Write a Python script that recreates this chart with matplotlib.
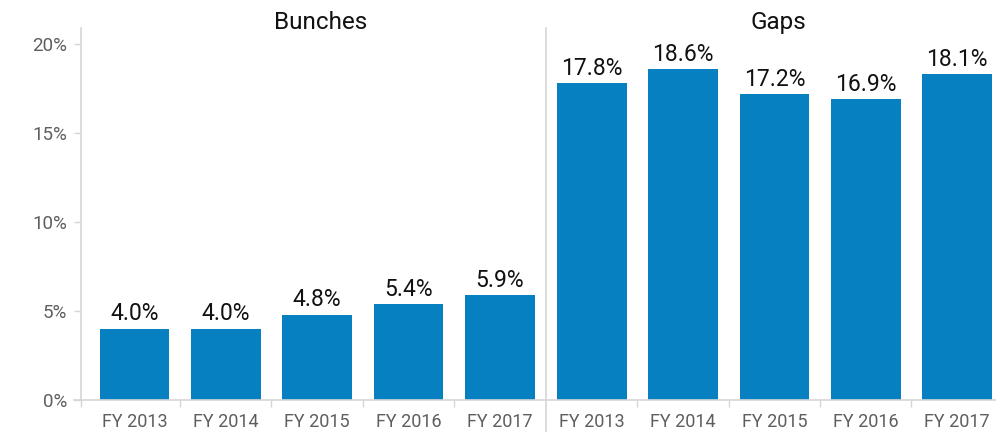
import numpy as np
import matplotlib
matplotlib.use('Agg')
import matplotlib.pyplot as plt
from matplotlib.lines import Line2D

plt.rcParams['font.family'] = ['Roboto', 'DejaVu Sans']

# data
years = ['FY 2013', 'FY 2014', 'FY 2015', 'FY 2016', 'FY 2017']
bunches = [4.0, 4.0, 4.8, 5.4, 5.9]
gaps = [17.8, 18.6, 17.2, 16.9, 18.3]
bunches_labels = ['4.0%', '4.0%', '4.8%', '5.4%', '5.9%']
gaps_labels = ['17.8%', '18.6%', '17.2%', '16.9%', '18.1%']
panel_titles = ['Bunches', 'Gaps']
yticks = [0, 5, 10, 15, 20]

bar_color = '#0780C2'
axis_color = '#d6d6d6'
tick_text = '#5e5e5e'

W, H = 996, 432
fig = plt.figure(figsize=(W / 100, H / 100), dpi=100)

# panel geometry in pixels
y0, y1 = 400, 28
ax1 = fig.add_axes([81 / W, (H - y0) / H, (546 - 81) / W, (y0 - y1) / H])
ax2 = fig.add_axes([546 / W, (H - y0) / H, (W - 546) / W, (y0 - y1) / H])

ytop = 20.9
x = np.arange(len(years))

for ax, vals, labs, title, xl in [
    (ax1, bunches, bunches_labels, panel_titles[0], (-0.586, 4.507)),
    (ax2, gaps, gaps_labels, panel_titles[1], (-0.5, 4.425)),
]:
    bars = ax.bar(x, vals, width=0.763, color=bar_color, zorder=2)
    for b, lab in zip(bars, labs):
        ax.annotate(lab, (b.get_x() + b.get_width() / 2, b.get_height()),
                    xytext=(0, 6), textcoords='offset points',
                    ha='center', va='baseline', fontsize=16.5, color='#111111')
    ax.set_xlim(*xl)
    ax.set_ylim(0, ytop)
    # panel title, baseline just at the top of the axes
    ax.annotate(title, (0.516, 1.0), xycoords='axes fraction',
                xytext=(0, -1), textcoords='offset points',
                ha='center', va='baseline', fontsize=17.5, color='#111111')

    for s in ['top', 'right', 'left']:
        ax.spines[s].set_visible(False)
    ax.spines['bottom'].set_color(axis_color)
    ax.spines['bottom'].set_linewidth(1.2)

ax1.set_xticks([-0.586, 0.5, 1.5, 2.5, 3.5])
ax2.set_xticks([0.5, 1.5, 2.5, 3.5])

for ax in (ax1, ax2):
    ax.set_xticklabels([])
    # category labels at centres, ticks at the boundaries
    ax.set_xticks(x, minor=True)
    ax.set_xticklabels(years, minor=True)
    ax.tick_params(axis='x', which='minor', length=0, pad=9.5,
                   labelsize=13, labelcolor=tick_text)
    ax.tick_params(axis='x', which='major', length=5, width=1, color=axis_color)

ax1.spines['left'].set_visible(True)
ax1.spines['left'].set_color(axis_color)
ax1.spines['left'].set_linewidth(1.2)
ax1.spines['bottom'].set_bounds(-0.586 - 0.08, 4.507)
ax1.set_yticks(yticks)
ax1.set_yticklabels([f'{v}%' for v in yticks])
ax1.tick_params(axis='y', length=5, width=1, color=axis_color, pad=5,
                labelsize=13.5, labelcolor=tick_text)

ax2.set_yticks([])

# divider between the two panels
fig.add_artist(Line2D([546 / W, 546 / W], [0, (H - y1) / H],
                      transform=fig.transFigure, color=axis_color, lw=1.2))

fig.savefig('out.png', dpi=100)
